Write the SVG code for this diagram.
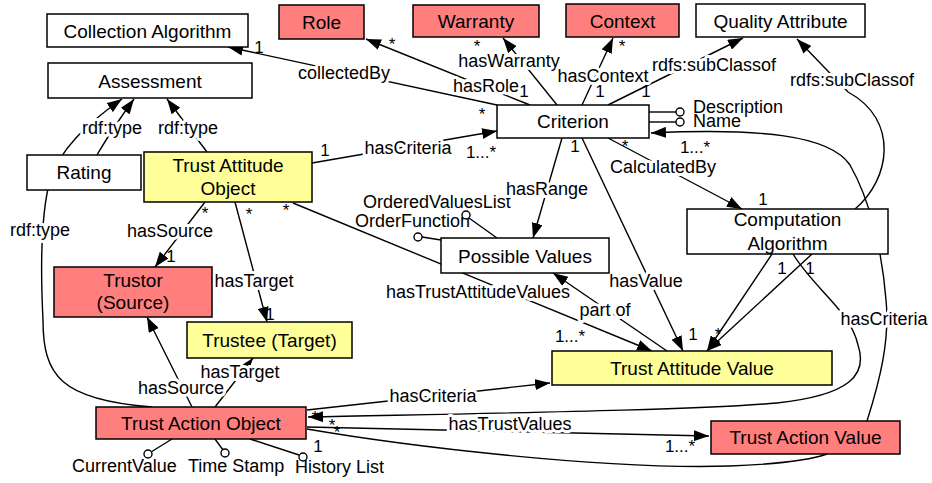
<svg xmlns="http://www.w3.org/2000/svg" width="932" height="483" viewBox="0 0 932 483">
<style>
text{font-family:"Liberation Sans",Arial,Helvetica,sans-serif;fill:#000}
.n{font-size:19px;text-anchor:middle}
.l{font-size:18px;text-anchor:middle;paint-order:stroke;stroke:#fff;stroke-width:6px;stroke-linejoin:round}
.m{font-size:17px;text-anchor:middle}
.a{font-size:18px}
rect{stroke:#000;stroke-width:1.5}
.w{fill:#fff}
.r{fill:#ff7f7f}
.y{fill:#ffff99}
.c path{fill:none;stroke:#000;stroke-width:1.4}
.arr{marker-end:url(#ah)}
circle{fill:#fff;stroke:#000;stroke-width:1.4}
</style>
<defs>
<marker id="ah" markerUnits="userSpaceOnUse" markerWidth="15" markerHeight="11" refX="15" refY="5.5" orient="auto"><path d="M0,0 L15,5.5 L0,11 z" fill="#000"/></marker>
</defs>
<g id="connectors" class="c">
<path class="arr" d="M497,105 L228,47"/>
<path class="arr" d="M530,105 L366,39"/>
<path class="arr" d="M557,105 L503,38"/>
<path class="arr" d="M582,105 L613,38"/>
<path class="arr" d="M608,105 L743,38"/>
<path class="arr" d="M855,209 C890,180 900,120 848,92 L797,39"/>
<path class="arr" d="M312,163 L497,131"/>
<path class="arr" d="M207,152 L167,99"/>
<path class="arr" d="M97,155 C103,145 110,132 134,99"/>
<path class="arr" d="M152,407 C60,400 43,375 43,320 C40,260 42,210 50,180 C60,150 85,125 122,99"/>
<path class="arr" d="M205,202 L155,267"/>
<path class="arr" d="M235,202 L267,322"/>
<path class="arr" d="M293,203 L652,351"/>
<path class="arr" d="M562,138 L533,238"/>
<path class="arr" d="M582,138 L683,351"/>
<path class="arr" d="M608,138 L742,209"/>
<path class="arr" d="M667,351 L553,273"/>
<path class="arr" d="M772,254 L707,351"/>
<path class="arr" d="M812,254 L707,351"/>
<path class="arr" d="M867,421 C880,380 890,340 886,300 C882,250 870,200 850,165 C830,135 760,128 651,133"/>
<path class="arr" d="M793,254 C815,290 850,310 858,345 C868,375 850,395 777,403 C700,410 500,413 308,417"/>
<path class="arr" d="M307,410 L550,383"/>
<path class="arr" d="M307,427 L709,436"/>
<path d="M307,429 C400,445 600,470 730,466 C780,464 810,460 827,454"/>
<path class="arr" d="M192,407 L147,317"/>
<path class="arr" d="M215,407 L253,358"/>
<path d="M649,112 L676,112"/>
<path d="M649,122 L676,122"/>
<path d="M497,238 L469,218"/>
<path d="M441,240 L422,237"/>
<path d="M172,439 L151,452"/>
<path d="M215,439 L223,450"/>
<path d="M250,439 L299,455"/>
<circle cx="680" cy="112" r="4"/>
<circle cx="680" cy="122" r="4"/>
<circle cx="418" cy="237" r="4"/>
<circle cx="148" cy="454" r="4"/>
<circle cx="225" cy="453" r="4"/>
<circle cx="303" cy="457" r="4"/>
<text class="a" x="363" y="208">OrderedValuesList</text>
<text class="a" x="355" y="227">OrderFunction</text>
<circle cx="466" cy="215" r="4"/>
<text class="a" x="693" y="113">Description</text>
<text class="a" x="693" y="127">Name</text>
<text class="a" x="72" y="472">CurrentValue</text>
<text class="a" x="188" y="472">Time Stamp</text>
<text class="a" x="295" y="473">History List</text>
<text class="l" x="344" y="79">collectedBy</text>
<text class="l" x="486" y="92">hasRole</text>
<text class="l" x="509" y="67">hasWarranty</text>
<text class="l" x="603" y="82">hasContext</text>
<text class="l" x="714" y="71">rdfs:subClassof</text>
<text class="l" x="852" y="86">rdfs:subClassof</text>
<text class="l" x="408" y="154">hasCriteria</text>
<text class="l" x="188" y="134">rdf:type</text>
<text class="l" x="112" y="134">rdf:type</text>
<text class="l" x="40" y="236">rdf:type</text>
<text class="l" x="170" y="237">hasSource</text>
<text class="l" x="254" y="287">hasTarget</text>
<text class="l" x="547" y="195">hasRange</text>
<text class="l" x="663" y="173">CalculatedBy</text>
<text class="l" x="478" y="298">hasTrustAttitudeValues</text>
<text class="l" x="605" y="316">part of</text>
<text class="l" x="646" y="287">hasValue</text>
<text class="l" x="884" y="325">hasCriteria</text>
<text class="l" x="433" y="402">hasCriteria</text>
<text class="l" x="510" y="430">hasTrustValues</text>
<text class="l" x="240" y="378">hasTarget</text>
<text class="l" x="181" y="394">hasSource</text>
<text class="m" x="259" y="53">1</text>
<text class="m" x="482" y="120">*</text>
<text class="m" x="392" y="50">*</text>
<text class="m" x="524" y="97">1</text>
<text class="m" x="477" y="52">*</text>
<text class="m" x="600" y="97">1</text>
<text class="m" x="622" y="52">*</text>
<text class="m" x="646" y="97">1</text>
<text class="m" x="325" y="156">1</text>
<text class="m" x="481" y="158">1...*</text>
<text class="m" x="575" y="152">1</text>
<text class="m" x="625" y="152">*</text>
<text class="m" x="763" y="205">1</text>
<text class="m" x="695" y="153">1...*</text>
<text class="m" x="205" y="219">*</text>
<text class="m" x="171" y="262">1</text>
<text class="m" x="249" y="220">*</text>
<text class="m" x="270" y="320">1</text>
<text class="m" x="286" y="216">*</text>
<text class="m" x="570" y="342">1...*</text>
<text class="m" x="693" y="340">1</text>
<text class="m" x="782" y="274">1</text>
<text class="m" x="810" y="274">1</text>
<text class="m" x="718" y="340">*</text>
<text class="m" x="315" y="423">*</text>
<text class="m" x="332" y="431">*</text>
<text class="m" x="337" y="438">*</text>
<text class="m" x="318" y="452">1</text>
<text class="m" x="680" y="452">1...*</text>
</g>
<g id="collection-algorithm"><rect class="w" x="47" y="14" width="201" height="33"/><text class="n" x="147.5" y="38">Collection Algorithm</text></g>
<g id="role"><rect class="r" x="279" y="5" width="85" height="34"/><text class="n" x="321.5" y="28.5">Role</text></g>
<g id="warranty"><rect class="r" x="413" y="5" width="126" height="32"/><text class="n" x="476" y="28">Warranty</text></g>
<g id="context"><rect class="r" x="566" y="4" width="113" height="33"/><text class="n" x="622.5" y="28">Context</text></g>
<g id="quality-attribute"><rect class="w" x="696" y="4" width="169" height="33"/><text class="n" x="780.5" y="28">Quality Attribute</text></g>
<g id="assessment"><rect class="w" x="48" y="63" width="204" height="35"/><text class="n" x="150" y="88">Assessment</text></g>
<g id="criterion"><rect class="w" x="497" y="105" width="152" height="33"/><text class="n" x="573" y="128">Criterion</text></g>
<g id="rating"><rect class="w" x="27" y="155" width="114" height="35"/><text class="n" x="84" y="179">Rating</text></g>
<g id="trust-attitude-object"><rect class="y" x="144" y="152" width="168" height="50"/><text class="n" x="228" y="172">Trust Attitude</text><text class="n" x="228" y="195">Object</text></g>
<g id="trustor"><rect class="r" x="54" y="267" width="158" height="50"/><text class="n" x="133" y="287">Trustor</text><text class="n" x="133" y="309">(Source)</text></g>
<g id="possible-values"><rect class="w" x="441" y="238" width="168" height="35"/><text class="n" x="525" y="262.5">Possible Values</text></g>
<g id="computation-algorithm"><rect class="w" x="687" y="209" width="201" height="45"/><text class="n" x="787.5" y="226">Computation</text><text class="n" x="787.5" y="250">Algorithm</text></g>
<g id="trustee"><rect class="y" x="187" y="322" width="165" height="36"/><text class="n" x="269.5" y="347">Trustee (Target)</text></g>
<g id="trust-attitude-value"><rect class="y" x="552" y="351" width="280" height="34"/><text class="n" x="692" y="375">Trust Attitude Value</text></g>
<g id="trust-action-object"><rect class="r" x="96" y="407" width="210" height="32"/><text class="n" x="201" y="430">Trust Action Object</text></g>
<g id="trust-action-value"><rect class="r" x="711" y="421" width="189" height="33"/><text class="n" x="805.5" y="444">Trust Action Value</text></g>
</svg>
